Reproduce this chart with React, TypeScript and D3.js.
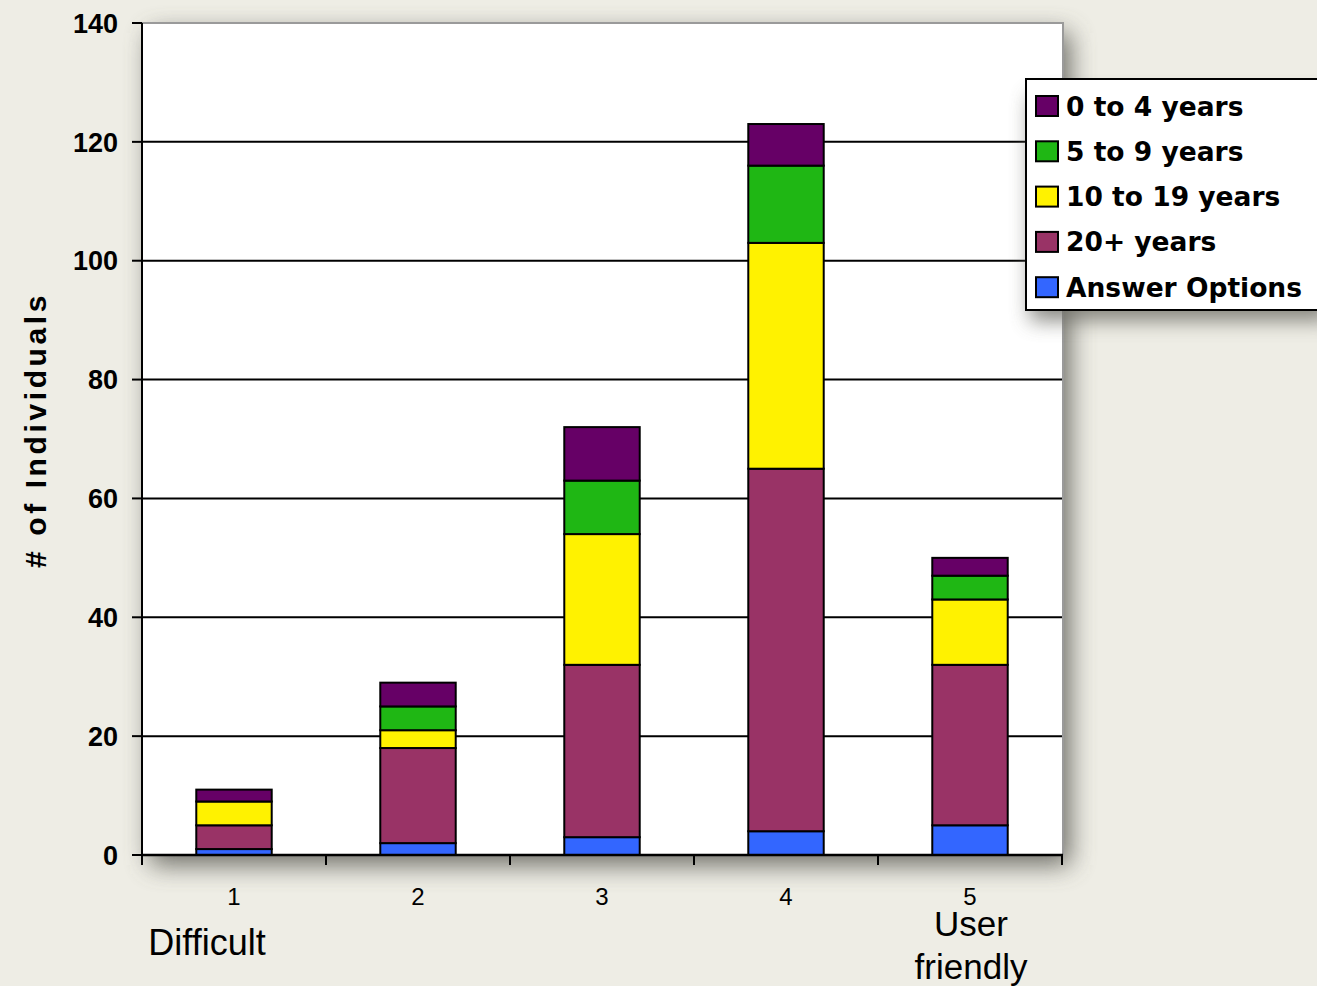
import React from "react";
import * as d3 from "d3";

const categories = ["1", "2", "3", "4", "5"];
const seriesNames = ["Answer Options", "20+ years", "10 to 19 years", "5 to 9 years", "0 to 4 years"];
const answerOptions = [1, 2, 3, 4, 5];
const years20plus = [4, 16, 29, 61, 27];
const years10to19 = [4, 3, 22, 38, 11];
const years5to9 = [0, 4, 9, 13, 4];
const years0to4 = [2, 4, 9, 7, 3];
const yTicks = [0, 20, 40, 60, 80, 100, 120, 140];
const legendOrder = ["0 to 4 years", "5 to 9 years", "10 to 19 years", "20+ years", "Answer Options"];
const colors: Record<string, string> = {
  "Answer Options": "#3366FF",
  "20+ years": "#993366",
  "10 to 19 years": "#FFF200",
  "5 to 9 years": "#1FB714",
  "0 to 4 years": "#660066",
};

const W = 1317;
const H = 986;
const plot = { left: 142, right: 1062, top: 23, bottom: 855 };

export default function App() {
  const values: Record<string, number[]> = {
    "Answer Options": answerOptions,
    "20+ years": years20plus,
    "10 to 19 years": years10to19,
    "5 to 9 years": years5to9,
    "0 to 4 years": years0to4,
  };
  const rows = categories.map((c, i) => {
    const r: any = { cat: c };
    seriesNames.forEach((s) => (r[s] = values[s][i]));
    return r;
  });
  const stacked = d3.stack<any>().keys(seriesNames)(rows);

  const x = d3.scaleBand<string>().domain(categories).range([plot.left, plot.right]).padding(0);
  const y = d3.scaleLinear().domain([0, 140]).range([plot.bottom, plot.top]);
  const bw = x.bandwidth();
  const barW = bw * 0.41;
  const font = "'Liberation Sans', Arial, sans-serif";
  const boundaries = [...categories.map((c) => x(c)!), plot.right];

  return (
    <svg width={W} height={H} style={{ position: "absolute", left: 0, top: 0, display: "block" }}>
      <defs>
        <filter id="sh" x="-20%" y="-20%" width="140%" height="140%">
          <feGaussianBlur stdDeviation="13" />
        </filter>
        <filter id="sh2" x="-20%" y="-40%" width="140%" height="180%">
          <feGaussianBlur stdDeviation="10" />
        </filter>
      </defs>
      <rect x={0} y={0} width={W} height={H} fill="#EEEDE5" />
      {/* plot shadow */}
      <rect
        x={plot.left + 8}
        y={plot.top + 10}
        width={plot.right - plot.left}
        height={plot.bottom - plot.top}
        fill="#5e5e58"
        opacity={0.9}
        filter="url(#sh)"
      />
      <rect
        x={plot.left}
        y={plot.top}
        width={plot.right - plot.left}
        height={plot.bottom - plot.top}
        fill="#ffffff"
      />
      {/* plot border top/right */}
      <path
        d={`M${plot.left},${plot.top}H${plot.right + 1}V${plot.bottom}`}
        fill="none"
        stroke="#9a9a9a"
        strokeWidth={2}
      />
      {/* gridlines */}
      {yTicks.slice(1, -1).map((t) => (
        <line key={t} x1={plot.left} x2={plot.right} y1={y(t)} y2={y(t)} stroke="#000" strokeWidth={2} />
      ))}
      {/* bars */}
      {stacked.map((layer) => (
        <g key={layer.key} fill={colors[layer.key]}>
          {layer.map((d, i) =>
            d[1] - d[0] > 0 ? (
              <rect
                key={i}
                x={x(categories[i])! + (bw - barW) / 2}
                y={y(d[1])}
                width={barW}
                height={y(d[0]) - y(d[1])}
                stroke="#000"
                strokeWidth={2}
              />
            ) : null
          )}
        </g>
      ))}
      {/* axes */}
      <line x1={plot.left} x2={plot.left} y1={plot.top} y2={plot.bottom + 1} stroke="#000" strokeWidth={2} />
      <line x1={plot.left - 1} x2={plot.right + 1} y1={plot.bottom} y2={plot.bottom} stroke="#000" strokeWidth={2.5} />
      {yTicks.map((t) => (
        <g key={t}>
          <line x1={plot.left - 10} x2={plot.left} y1={y(t)} y2={y(t)} stroke="#000" strokeWidth={2} />
          <text
            x={118}
            y={y(t)}
            dy="0.36em"
            textAnchor="end"
            fontFamily={font}
            fontWeight="bold"
            fontSize={27}
            fill="#000"
          >
            {t}
          </text>
        </g>
      ))}
      {boundaries.map((b, i) => (
        <line key={i} x1={b} x2={b} y1={plot.bottom} y2={plot.bottom + 10} stroke="#000" strokeWidth={2} />
      ))}
      {categories.map((c) => (
        <text key={c} x={x(c)! + bw / 2} y={905} textAnchor="middle" fontFamily={font} fontSize={24} fill="#000">
          {c}
        </text>
      ))}
      <text x={207} y={955} textAnchor="middle" fontFamily={font} fontSize={36} fill="#000">
        Difficult
      </text>
      <text x={971} y={936} textAnchor="middle" fontFamily={font} fontSize={35} fill="#000">
        User
      </text>
      <text x={971} y={979} textAnchor="middle" fontFamily={font} fontSize={35} fill="#000">
        friendly
      </text>
      {/* y title */}
      <text
        transform={`translate(46,430) rotate(-90)`}
        textAnchor="middle"
        fontFamily={font}
        fontWeight="bold"
        fontSize={30}
        letterSpacing={3.6}
        fill="#000"
      >
        # of Individuals
      </text>
      {/* legend */}
      <rect x={1030} y={96} width={300} height={225} fill="#6e6e68" opacity={0.8} filter="url(#sh2)" />
      <rect x={1026} y={79} width={300} height={231} fill="#fff" stroke="#000" strokeWidth={2} />
      {legendOrder.map((s, i) => {
        const cy = 106 + i * 45.3;
        return (
          <g key={s}>
            <rect x={1036} y={cy - 10} width={22} height={20} fill={colors[s]} stroke="#000" strokeWidth={2} />
            <text
              x={1066}
              y={cy}
              dy="0.36em"
              fontFamily="'DejaVu Sans', Verdana, sans-serif"
              fontWeight="bold"
              fontSize={26.5}
              fill="#000"
            >
              {s}
            </text>
          </g>
        );
      })}
    </svg>
  );
}
